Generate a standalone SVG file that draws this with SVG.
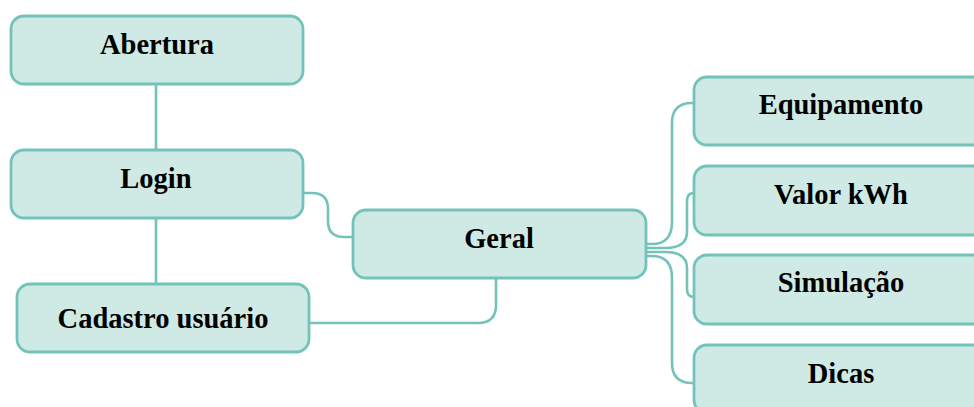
<svg xmlns="http://www.w3.org/2000/svg" width="974" height="407" viewBox="0 0 974 407">
<style>
.node rect{fill:#cfe9e4;stroke:#74c3ba;stroke-width:2.8}
.node text{font-family:"Liberation Serif","Times New Roman",serif;font-weight:bold;font-size:28.5px;fill:#000;text-anchor:middle}
.conn path{fill:none;stroke:#74c3ba;stroke-width:2.6}
</style>
<rect width="974" height="407" fill="#fff"/>
<g id="connectors" class="conn">
<path d="M156,84 V150"/>
<path d="M156,218 V284"/>
<path d="M303,193 H312 Q328,193 328,209 V221 Q328,237 344,237 H353"/>
<path d="M496,279 V305 Q496,323 478,323 H310"/>
<path d="M645,244 H652 Q672,244 672,222 V123 Q672,103 692,103 H694"/>
<path d="M645,248 H665 Q687,248 687,232 V201 Q687,193 694,193"/>
<path d="M645,252 H665 Q687,252 687,268 V289 Q687,297 694,297"/>
<path d="M645,256 H652 Q672,256 672,278 V363 Q672,383 692,383 H694"/>
</g>
<g id="abertura" class="node"><rect x="11" y="16" width="292" height="68" rx="13"/><text x="157" y="54">Abertura</text></g>
<g id="login" class="node"><rect x="11" y="150" width="292" height="68" rx="13"/><text x="156" y="188">Login</text></g>
<g id="cadastro" class="node"><rect x="17" y="284" width="292" height="68" rx="13"/><text x="163" y="328">Cadastro usuário</text></g>
<g id="geral" class="node"><rect x="353" y="210" width="293" height="68" rx="13"/><text x="499" y="248">Geral</text></g>
<g id="equipamento" class="node"><rect x="694" y="77" width="294" height="68" rx="13"/><text x="841" y="114">Equipamento</text></g>
<g id="valor" class="node"><rect x="694" y="166" width="294" height="69" rx="13"/><text x="841" y="204">Valor kWh</text></g>
<g id="simulacao" class="node"><rect x="694" y="255" width="294" height="69" rx="13"/><text x="841" y="292">Simulação</text></g>
<g id="dicas" class="node"><rect x="694" y="345" width="294" height="68" rx="13"/><text x="841" y="383">Dicas</text></g>
</svg>
